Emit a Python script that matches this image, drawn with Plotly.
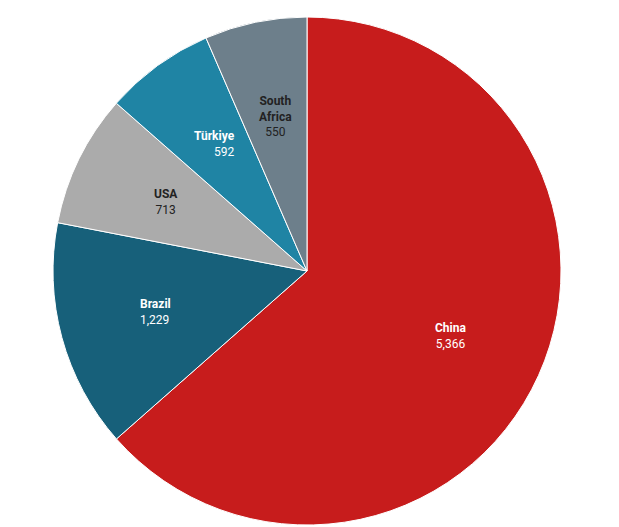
import math
import plotly.graph_objects as go

countries = ["China", "Brazil", "USA", "Türkiye", "South<br>Africa"]
values = [5366, 1229, 713, 592, 550]
colors = ["#c71c1c", "#17607a", "#ababab", "#1f84a4", "#6d7f8b"]
text_colors = ["white", "white", "#222222", "white", "#222222"]
text_align = ["center", "left", "center", "right", "center"]

W, H = 611, 519
L, R, T, B = 0, 13, 9, 2
plot_w = W - L - R
plot_h = H - T - B
radius = min(plot_w, plot_h) / 2.0

fig = go.Figure(go.Pie(
    labels=countries,
    values=values,
    sort=False,
    direction="clockwise",
    rotation=0,
    marker=dict(colors=colors, line=dict(color="white", width=1)),
    textinfo="none",
    hoverinfo="label+value",
    showlegend=False,
    domain=dict(x=[0, 1], y=[0, 1]),
))

# Labels at a fixed fraction of the radius, along each slice's mid-angle.
total = float(sum(values))
cum = 0.0
for name, v, tc, al in zip(countries, values, text_colors, text_align):
    mid = (cum + v / 2.0) / total
    cum += v
    ang = 2 * math.pi * mid
    r = radius * 0.62
    dx = r * math.sin(ang)
    dy = r * math.cos(ang)
    fig.add_annotation(
        x=0.5 + dx / plot_w,
        y=0.5 + dy / plot_h,
        xref="paper",
        yref="paper",
        text=f"<b>{name}</b><br>{v:,}",
        showarrow=False,
        align=al,
        xanchor="center",
        yanchor="middle",
        font=dict(family="Roboto", size=12, color=tc),
    )

fig.update_layout(
    width=W,
    height=H,
    margin=dict(l=L, r=R, t=T, b=B),
    paper_bgcolor="white",
)

fig.write_html("out.html")
